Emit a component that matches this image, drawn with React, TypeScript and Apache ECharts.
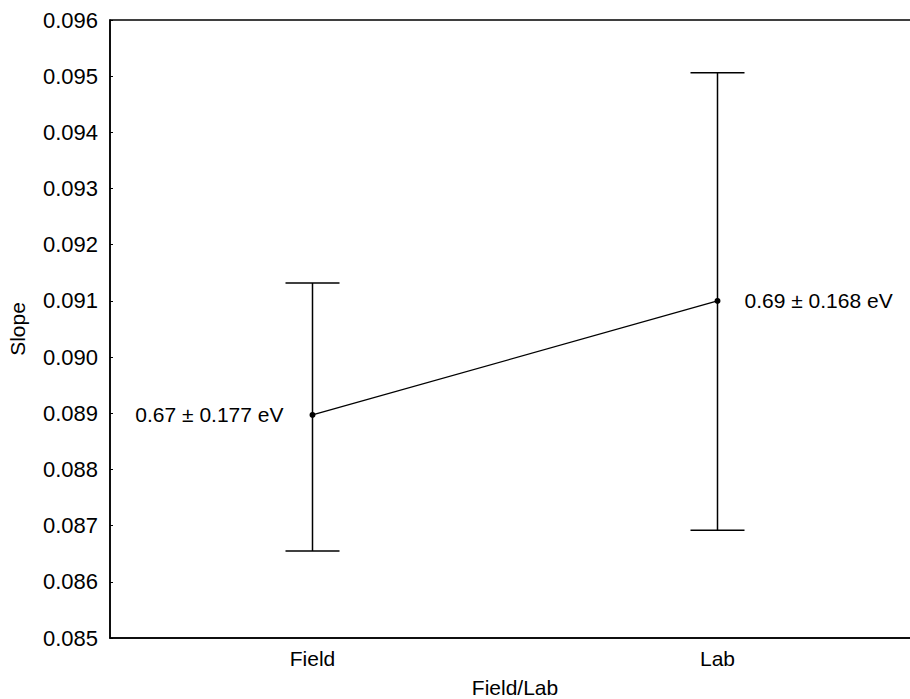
import React, { useEffect, useRef } from "react";
import * as echarts from "echarts";

const categories = ["Field", "Lab"];
const meanValues = [0.08897, 0.0910];
const lowValues = [0.08655, 0.08692];
const highValues = [0.09132, 0.09506];
const pointLabels = ["0.67 ± 0.177 eV", "0.69 ± 0.168 eV"];

const FONT = "'Liberation Sans', Arial, sans-serif";
const INK = "#000";

export default function App() {
  const ref = useRef<HTMLDivElement>(null);
  useEffect(() => {
    document.body.style.margin = "0";
    const chart = echarts.init(ref.current!, undefined, { renderer: "svg" });
    const errData = categories.map((c, i) => [i, lowValues[i], highValues[i]]);
    chart.setOption({
      animation: false,
      backgroundColor: "#fff",
      grid: {
        left: 110,
        top: 20,
        bottom: 61,
        right: -10,
        outerBoundsMode: "none",
        containLabel: false,
        show: true,
        borderColor: INK,
        borderWidth: 1.5,
      },
      xAxis: {
        type: "category",
        data: categories,
        boundaryGap: true,
        name: "Field/Lab",
        nameLocation: "middle",
        nameGap: 39,
        nameTextStyle: { fontFamily: FONT, fontSize: 21, color: INK },
        axisLine: { lineStyle: { color: INK, width: 1.5 } },
        axisTick: { show: false },
        axisLabel: { fontFamily: FONT, fontSize: 21, color: INK, margin: 10 },
        splitLine: { show: false },
      },
      yAxis: {
        type: "value",
        min: 0.085,
        max: 0.096,
        interval: 0.001,
        name: "Slope",
        nameLocation: "middle",
        nameGap: 82,
        nameTextStyle: { fontFamily: FONT, fontSize: 21, color: INK },
        axisLine: { show: true, lineStyle: { color: INK, width: 1.5 } },
        axisTick: { show: true, inside: true, length: 3, lineStyle: { color: INK } },
        axisLabel: {
          fontFamily: FONT,
          fontSize: 22,
          color: INK,
          margin: 12,
          formatter: (v: number) => v.toFixed(3),
        },
        splitLine: { show: false },
      },
      series: [
        {
          type: "custom",
          data: errData,
          renderItem: (params: any, api: any) => {
            const x = api.value(0);
            const lo = api.coord([x, api.value(1)]);
            const hi = api.coord([x, api.value(2)]);
            const half = 27;
            const style = { stroke: INK, lineWidth: 1.5 };
            return {
              type: "group",
              children: [
                { type: "line", shape: { x1: lo[0], y1: lo[1], x2: hi[0], y2: hi[1] }, style },
                { type: "line", shape: { x1: hi[0] - half, y1: hi[1], x2: hi[0] + half, y2: hi[1] }, style },
                { type: "line", shape: { x1: lo[0] - half, y1: lo[1], x2: lo[0] + half, y2: lo[1] }, style },
              ],
            };
          },
          z: 2,
        },
        {
          type: "line",
          data: meanValues.map((v, i) => ({
            value: v,
            label: {
              show: true,
              position: i === 0 ? "left" : "right",
              distance: i === 0 ? 26 : 24,
              formatter: pointLabels[i],
              fontFamily: FONT,
              fontSize: 21,
              color: INK,
            },
          })),
          symbol: "circle",
          symbolSize: 6,
          itemStyle: { color: INK },
          lineStyle: { color: INK, width: 1.3 },
          z: 3,
        },
      ],
    });
    return () => chart.dispose();
  }, []);
  return <div ref={ref} style={{ width: 910, height: 699 }} />;
}
